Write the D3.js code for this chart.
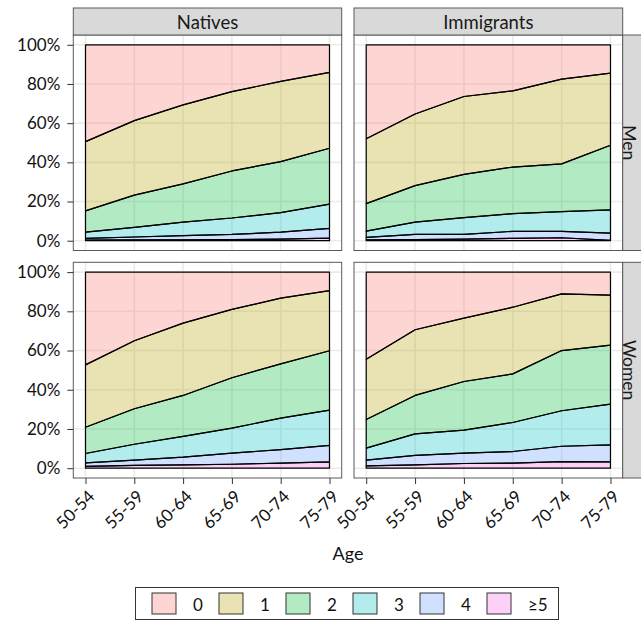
<!DOCTYPE html>
<html>
<head>
<meta charset="utf-8">
<script src="https://cdn.jsdelivr.net/npm/d3@7"></script>
<style>
  html, body { margin: 0; padding: 0; background: #fff; }
  svg { display: block; font-family: Lato, "Open Sans", sans-serif; }
</style>
</head>
<body>
<svg id="chart" width="641" height="622"></svg>
<script>
// Age groups on the x axis
const ageGroups = ["50-54", "55-59", "60-64", "65-69", "70-74", "75-79"];
// Number-of-children categories (legend order, top of the stack first)
const childCategories = ["0", "1", "2", "3", "4", "\u22655"];
const origins = ["Natives", "Immigrants"];
const sexes = ["Men", "Women"];
const yTicks = [0, 0.2, 0.4, 0.6, 0.8, 1];

// Shares (%) per category, one row per category in childCategories order
const nativesMen = [
  [49.4, 38.7, 30.7, 23.9, 18.7, 14.1],
  [35.4, 38.0, 40.3, 40.5, 40.9, 38.7],
  [10.8, 16.5, 19.5, 24.0, 26.1, 28.5],
  [3.2, 4.9, 6.9, 8.4, 9.9, 12.4],
  [0.9, 1.5, 2.1, 2.6, 3.6, 5.0],
  [0.3, 0.4, 0.5, 0.6, 0.8, 1.3]
];
const immigrantsMen = [
  [48.0, 35.3, 26.4, 23.5, 17.5, 14.5],
  [33.1, 36.6, 39.7, 38.9, 43.3, 36.8],
  [14.0, 18.6, 22.1, 23.8, 24.4, 33.0],
  [3.2, 6.3, 8.6, 9.0, 10.0, 11.8],
  [1.3, 2.6, 2.4, 3.6, 3.3, 3.7],
  [0.4, 0.6, 0.8, 1.2, 1.5, 0.2]
];
const nativesWomen = [
  [47.3, 35.0, 26.0, 19.0, 13.3, 9.4],
  [31.8, 34.7, 36.9, 34.9, 33.5, 30.7],
  [13.4, 18.1, 20.9, 25.7, 27.7, 30.3],
  [4.8, 8.1, 10.6, 12.7, 16.0, 18.0],
  [1.8, 2.7, 3.9, 5.7, 6.9, 8.4],
  [0.9, 1.4, 1.7, 2.0, 2.6, 3.2]
];
const immigrantsWomen = [
  [44.4, 29.4, 23.5, 17.9, 11.1, 11.7],
  [30.8, 33.5, 32.3, 34.0, 28.9, 25.5],
  [14.6, 19.6, 24.8, 24.8, 30.7, 30.1],
  [6.1, 11.0, 11.7, 14.8, 18.1, 20.8],
  [2.9, 4.8, 5.3, 5.9, 7.8, 8.7],
  [1.2, 1.7, 2.4, 2.6, 3.4, 3.2]
];

const palette = ["#F8766D", "#B79F00", "#00BA38", "#00BFC4", "#619CFF", "#F564E3"];
const fillAlpha = 0.3;

const panelData = {
  "Natives|Men": nativesMen,
  "Immigrants|Men": immigrantsMen,
  "Natives|Women": nativesWomen,
  "Immigrants|Women": immigrantsWomen
};

// Panel layout
const colX = [[73.3, 341.7], [354, 622.7]];
const rowY = [[35, 250.5], [262.3, 478]];
const stripTop = 8;
const stripW = 27;

const svg = d3.select("#chart");
const color = d3.scaleOrdinal().domain(childCategories).range(palette);

// Stack from the bottom: ≥5 first, 0 last
const stackKeys = childCategories.slice().reverse();

function buildRows(matrix) {
  return ageGroups.map((age, i) => {
    const row = { idx: i + 1, age };
    childCategories.forEach((c, k) => { row[c] = matrix[k][i] / 100; });
    return row;
  });
}

origins.forEach((origin, ci) => {
  sexes.forEach((sex, ri) => {
    const [x0, x1] = colX[ci];
    const [y0, y1] = rowY[ri];
    const x = d3.scaleLinear().domain([0.75, 6.25]).range([x0, x1]);
    const y = d3.scaleLinear().domain([-0.05, 1.05]).range([y1, y0]);
    const g = svg.append("g");

    // panel background
    g.append("rect").attr("x", x0).attr("y", y0)
      .attr("width", x1 - x0).attr("height", y1 - y0).attr("fill", "#fff");

    // gridlines
    g.selectAll(".vgrid").data(d3.range(1, 7)).join("line")
      .attr("x1", d => x(d)).attr("x2", d => x(d))
      .attr("y1", y0).attr("y2", y1)
      .attr("stroke", "#EBEBEB").attr("stroke-width", 1.6);
    g.selectAll(".hgrid").data(yTicks).join("line")
      .attr("x1", x0).attr("x2", x1)
      .attr("y1", d => y(d)).attr("y2", d => y(d))
      .attr("stroke", "#EBEBEB").attr("stroke-width", 1.6);

    // stacked areas
    const rows = buildRows(panelData[origin + "|" + sex]);
    const series = d3.stack().keys(stackKeys)(rows);
    const area = d3.area()
      .x(d => x(d.data.idx))
      .y0(d => y(d[0]))
      .y1(d => y(d[1]));
    g.selectAll(".layer").data(series).join("path")
      .attr("d", area)
      .attr("fill", d => color(d.key))
      .attr("fill-opacity", fillAlpha)
      .attr("stroke", "#000")
      .attr("stroke-width", 1.2)
      .attr("stroke-linejoin", "round");

    // panel border
    g.append("rect").attr("x", x0).attr("y", y0)
      .attr("width", x1 - x0).attr("height", y1 - y0)
      .attr("fill", "none").attr("stroke", "#5a5a5a").attr("stroke-width", 1);

    // y axis on the left column
    if (ci === 0) {
      const ax = g.append("g").attr("transform", `translate(${x0},0)`)
        .call(d3.axisLeft(y).tickValues(yTicks).tickFormat(d3.format(".0%"))
          .tickSize(6).tickPadding(7));
      ax.select(".domain").remove();
      ax.selectAll(".tick line").attr("stroke", "#333");
      ax.selectAll(".tick text").attr("font-size", 17).attr("fill", "#111")
        .attr("font-family", "Lato, sans-serif");
    }

    // x axis on the bottom row
    if (ri === sexes.length - 1) {
      const ax = g.append("g").attr("transform", `translate(0,${y1})`)
        .call(d3.axisBottom(x).tickValues(d3.range(1, 7))
          .tickFormat(d => ageGroups[d - 1]).tickSize(6).tickPadding(4));
      ax.select(".domain").remove();
      ax.selectAll(".tick line").attr("stroke", "#333");
      ax.selectAll(".tick text")
        .attr("font-size", 17).attr("fill", "#111")
        .attr("font-family", "Lato, sans-serif")
        .attr("text-anchor", "end")
        .attr("dy", null)
        .attr("y", null)
        .attr("transform", "translate(0,10) rotate(-45)")
        .attr("dominant-baseline", "hanging");
    }

    // top strips
    if (ri === 0) {
      g.append("rect").attr("x", x0).attr("y", stripTop)
        .attr("width", x1 - x0).attr("height", y0 - stripTop)
        .attr("fill", "#D9D9D9").attr("stroke", "#5a5a5a").attr("stroke-width", 1);
      g.append("text").attr("x", (x0 + x1) / 2).attr("y", (stripTop + y0) / 2)
        .attr("text-anchor", "middle").attr("dominant-baseline", "central")
        .attr("font-size", 18.5).attr("fill", "#1a1a1a").text(origin);
    }

    // right strips (the strip runs past the canvas edge; its label stays inside)
    if (ci === origins.length - 1) {
      g.append("rect").attr("x", x1).attr("y", y0)
        .attr("width", stripW).attr("height", y1 - y0)
        .attr("fill", "#D9D9D9").attr("stroke", "#5a5a5a").attr("stroke-width", 1);
      g.append("text")
        .attr("transform", `translate(${x1 + 7},${(y0 + y1) / 2}) rotate(90)`)
        .attr("text-anchor", "middle").attr("dominant-baseline", "central")
        .attr("font-size", 17.5).attr("fill", "#1a1a1a").text(sex);
    }
  });
});

// x axis title
svg.append("text").attr("x", 348).attr("y", 560)
  .attr("text-anchor", "middle").attr("font-size", 18).attr("fill", "#111")
  .text("Age");

// legend
const legend = svg.append("g");
legend.append("rect").attr("x", 135.5).attr("y", 587.5)
  .attr("width", 423).attr("height", 32)
  .attr("fill", "#fff").attr("stroke", "#333").attr("stroke-width", 1);
const keyX = d3.scalePoint().domain(childCategories).range([152, 487]);
const items = legend.selectAll(".item").data(childCategories).join("g")
  .attr("transform", d => `translate(${keyX(d)},593)`);
items.append("rect").attr("width", 24).attr("height", 21)
  .attr("fill", d => color(d)).attr("fill-opacity", fillAlpha)
  .attr("stroke", "#333").attr("stroke-width", 1);
items.append("text").attr("x", 41).attr("y", 11)
  .attr("dominant-baseline", "central")
  .attr("font-size", 17).attr("fill", "#111")
  .text(d => d);
</script>
</body>
</html>
